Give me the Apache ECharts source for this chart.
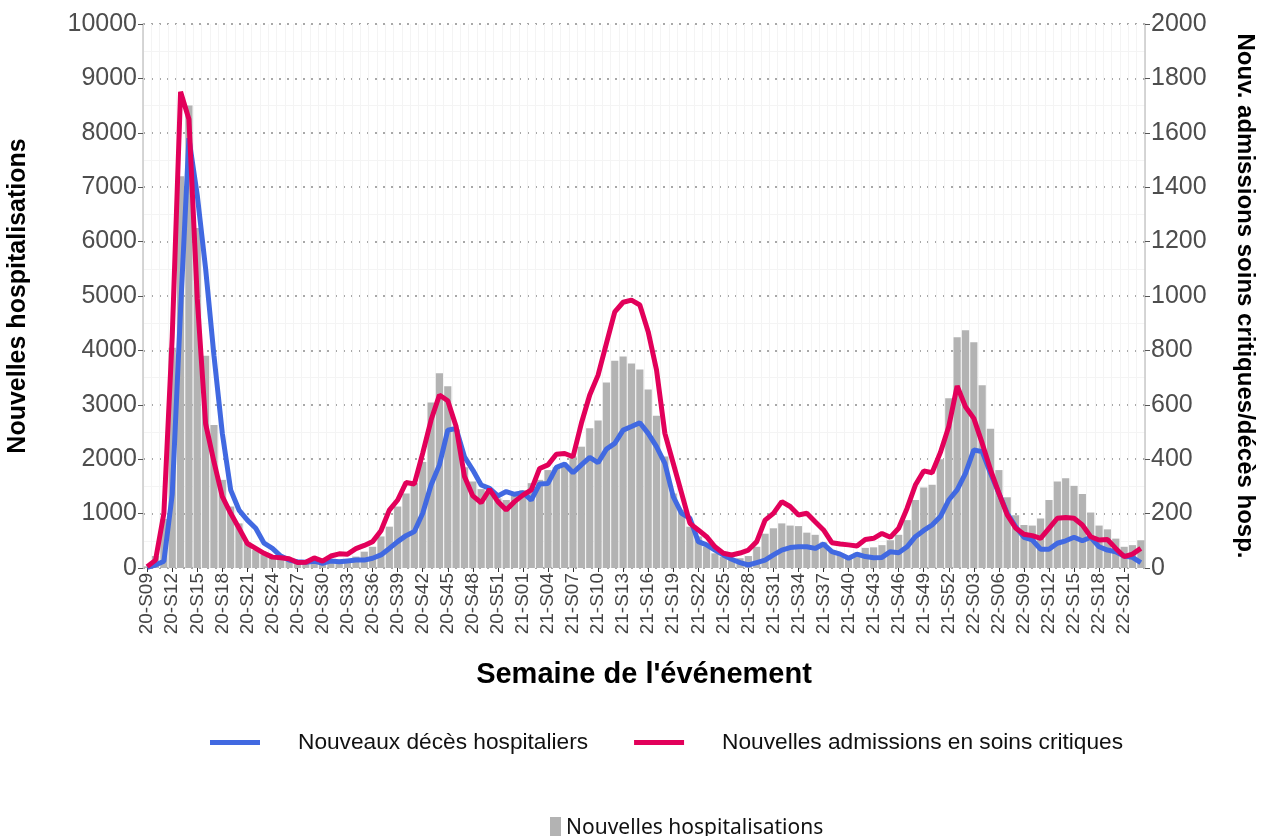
<!DOCTYPE html>
<html>
<head>
<meta charset="utf-8">
<script src="https://cdn.jsdelivr.net/npm/echarts@6/dist/echarts.min.js"></script>
<style>
  html, body { margin: 0; padding: 0; background: #fff; }
  #chart { width: 1261px; height: 836px; }
</style>
</head>
<body>
<div id="chart"></div>
<script>
// semaines 2020-S09 .. 2022-S23
var semaines = [
    '20-S09', '20-S10', '20-S11', '20-S12', '20-S13', '20-S14', '20-S15', '20-S16', '20-S17', '20-S18',
    '20-S19', '20-S20', '20-S21', '20-S22', '20-S23', '20-S24', '20-S25', '20-S26', '20-S27', '20-S28',
    '20-S29', '20-S30', '20-S31', '20-S32', '20-S33', '20-S34', '20-S35', '20-S36', '20-S37', '20-S38',
    '20-S39', '20-S40', '20-S41', '20-S42', '20-S43', '20-S44', '20-S45', '20-S46', '20-S47', '20-S48',
    '20-S49', '20-S50', '20-S51', '20-S52', '20-S53', '21-S01', '21-S02', '21-S03', '21-S04', '21-S05',
    '21-S06', '21-S07', '21-S08', '21-S09', '21-S10', '21-S11', '21-S12', '21-S13', '21-S14', '21-S15',
    '21-S16', '21-S17', '21-S18', '21-S19', '21-S20', '21-S21', '21-S22', '21-S23', '21-S24', '21-S25',
    '21-S26', '21-S27', '21-S28', '21-S29', '21-S30', '21-S31', '21-S32', '21-S33', '21-S34', '21-S35',
    '21-S36', '21-S37', '21-S38', '21-S39', '21-S40', '21-S41', '21-S42', '21-S43', '21-S44', '21-S45',
    '21-S46', '21-S47', '21-S48', '21-S49', '21-S50', '21-S51', '21-S52', '22-S01', '22-S02', '22-S03',
    '22-S04', '22-S05', '22-S06', '22-S07', '22-S08', '22-S09', '22-S10', '22-S11', '22-S12', '22-S13',
    '22-S14', '22-S15', '22-S16', '22-S17', '22-S18', '22-S19', '22-S20', '22-S21', '22-S22', '22-S23'
];

var hospitalisations = [
    30, 220, 900, 4050, 7200, 8500, 6250, 3900, 2630, 1620,
    1130, 820, 470, 330, 250, 200, 160, 130, 110, 110,
    120, 120, 120, 140, 160, 210, 300, 390, 580, 760,
    1130, 1370, 1560, 1950, 3040, 3580, 3340, 2550, 1850, 1590,
    1450, 1370, 1280, 1250, 1340, 1430, 1560, 1620, 1800, 1850,
    1900, 2050, 2230, 2570, 2710, 3410, 3810, 3890, 3760, 3650,
    3280, 2800, 2050, 1370, 1070, 760, 580, 390, 270, 210,
    150, 180, 220, 390, 630, 730, 820, 780, 770, 650,
    610, 470, 300, 250, 220, 280, 370, 380, 420, 510,
    610, 880, 1250, 1480, 1530, 2000, 3120, 4240, 4370, 4150,
    3360, 2560, 1800, 1300, 970, 790, 780, 910, 1250, 1590,
    1650, 1510, 1360, 1020, 780, 710, 540, 390, 420, 510
];

var deces = [
    2, 11, 25, 270, 950, 1580, 1370, 1100, 780, 495,
    287, 213, 176, 146, 91, 72, 44, 29, 23, 21,
    25, 17, 26, 23, 26, 29, 29, 36, 48, 72,
    97, 119, 134, 201, 305, 379, 507, 513, 409, 360,
    305, 293, 265, 281, 271, 277, 250, 309, 311, 370,
    382, 350, 379, 407, 387, 437, 458, 507, 520, 534,
    495, 446, 385, 262, 201, 183, 97, 85, 66, 48,
    32, 20, 11, 20, 29, 48, 66, 75, 78, 78,
    72, 88, 60, 51, 36, 51, 42, 38, 39, 60,
    56, 78, 115, 138, 158, 189, 250, 287, 348, 434,
    428, 348, 275, 201, 152, 113, 103, 69, 69, 91,
    100, 113, 100, 113, 78, 66, 60, 44, 39, 20
];

var soinsCritiques = [
    5, 29, 201, 850, 1751, 1650, 990, 530, 390, 262,
    201, 146, 90, 72, 54, 40, 38, 34, 20, 21,
    37, 25, 44, 52, 51, 71, 83, 97, 137, 213,
    250, 314, 309, 422, 544, 636, 615, 520, 336, 265,
    240, 289, 244, 213, 244, 268, 287, 366, 379, 418,
    421, 409, 532, 636, 709, 826, 942, 977, 985, 967,
    869, 728, 495, 385, 275, 164, 140, 115, 78, 54,
    48, 55, 66, 97, 176, 201, 244, 226, 195, 201,
    170, 140, 93, 88, 85, 81, 105, 109, 127, 113,
    146, 219, 305, 357, 350, 425, 520, 669, 593, 550,
    459, 361, 275, 195, 147, 124, 119, 109, 146, 183,
    186, 183, 158, 115, 103, 105, 72, 42, 51, 72
];

var chart = echarts.init(document.getElementById('chart'));

var font = 'Liberation Sans, Arial, sans-serif';

// pas de séparateur de milliers
function plain(v) {
    return String(v);
}

chart.setOption({
    animation: false,
    backgroundColor: '#ffffff',
    textStyle: {fontFamily: font},
    grid: {
        left: 143,
        right: 116,
        top: 24,
        bottom: 268,
        outerBoundsMode: 'none',
        containLabel: false
    },
    legend: [{
        data: ['Nouveaux décès hospitaliers', 'Nouvelles admissions en soins critiques'],
        left: 205,
        top: 726,
        icon: 'rect',
        itemWidth: 50,
        itemHeight: 5,
        itemGap: 46,
        textStyle: {
            fontSize: 22.7,
            color: '#111',
            fontFamily: font,
            padding: [0, 0, 0, 33]
        }
    }, {
        data: ['Nouvelles hospitalisations'],
        left: 545,
        top: 812,
        icon: 'rect',
        itemWidth: 11,
        itemHeight: 23,
        textStyle: {
            fontSize: 21,
            color: '#111',
            fontFamily: 'Noto Sans, Open Sans, sans-serif'
        }
    }],
    xAxis: {
        type: 'category',
        data: semaines,
        name: "Semaine de l'événement",
        nameLocation: 'middle',
        nameGap: 92,
        nameTextStyle: {
            fontSize: 29,
            fontWeight: 'bold',
            color: '#000'
        },
        axisLine: {show: false},
        axisTick: {
            show: true,
            interval: 2,
            alignWithLabel: true,
            length: 4,
            lineStyle: {color: '#333'}
        },
        axisLabel: {
            interval: 2,
            rotate: 90,
            fontSize: 19,
            color: '#444',
            margin: 5
        },
        splitLine: {
            show: true,
            interval: 0,
            lineStyle: {color: '#f4f4f4', width: 1}
        }
    },
    yAxis: [{
        type: 'value',
        min: 0,
        max: 10000,
        interval: 1000,
        name: 'Nouvelles hospitalisations',
        nameLocation: 'middle',
        nameGap: 112,
        nameTextStyle: {
            fontSize: 25,
            fontWeight: 'bold',
            color: '#000'
        },
        axisLine: {show: true, lineStyle: {color: '#c8c8c8', width: 1.5}},
        axisTick: {show: true, length: 5, lineStyle: {color: '#555'}},
        axisLabel: {fontSize: 25, color: '#4d4d4d', margin: 6, formatter: plain},
        splitLine: {
            show: true,
            lineStyle: {color: '#8c8c8c', type: [2, 6], width: 1.6}
        },
        minorTick: {show: false, splitNumber: 2},
        minorSplitLine: {show: true, lineStyle: {color: '#f4f4f4'}}
    }, {
        type: 'value',
        min: 0,
        max: 2000,
        interval: 200,
        position: 'right',
        name: 'Nouv. admissions soins critiques/décès hosp.',
        nameLocation: 'middle',
        nameRotate: -90,
        nameGap: 88,
        nameTextStyle: {
            fontSize: 24,
            fontWeight: 'bold',
            color: '#000'
        },
        axisLine: {show: true, lineStyle: {color: '#c8c8c8', width: 1.5}},
        axisTick: {show: true, length: 5, lineStyle: {color: '#555'}},
        axisLabel: {fontSize: 25, color: '#4d4d4d', margin: 6, formatter: plain},
        splitLine: {show: false}
    }],
    series: [{
        name: 'Nouvelles hospitalisations',
        type: 'bar',
        yAxisIndex: 0,
        data: hospitalisations,
        barCategoryGap: '14%',
        itemStyle: {color: '#b3b3b3'}
    }, {
        name: 'Nouveaux décès hospitaliers',
        type: 'line',
        yAxisIndex: 1,
        data: deces,
        symbol: 'none',
        itemStyle: {color: '#4169e1'},
        lineStyle: {color: '#4169e1', width: 5}
    }, {
        name: 'Nouvelles admissions en soins critiques',
        type: 'line',
        yAxisIndex: 1,
        data: soinsCritiques,
        symbol: 'none',
        itemStyle: {color: '#e2005a'},
        lineStyle: {color: '#e2005a', width: 5}
    }]
});
</script>
</body>
</html>
